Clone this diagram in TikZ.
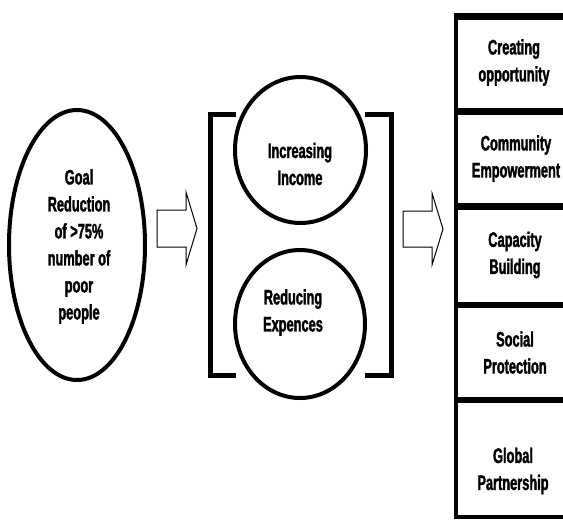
\documentclass[tikz,border=0pt]{standalone}
\usepackage{fontspec}
\newfontfamily\dfont{Liberation Sans Bold}[FakeStretch=0.61,FakeBold=1.6]
\usetikzlibrary{shapes.geometric}
\begin{document}
\begin{tikzpicture}[x=1pt,y=-1pt,
  txt/.style={font=\fontsize{21}{27}\dfont\selectfont, align=center, inner sep=0pt},
  oval/.style={ellipse, draw, line width=4pt, inner sep=0pt},
  brk/.style={line width=4.5pt, miter limit=10},
  blockarrow/.style={draw, line width=1pt, line join=miter},
  boxline/.style={line width=6.5pt},
  boxside/.style={line width=4pt}]
\useasboundingbox (0,0) rectangle (563,520);
% goal ellipse
\node[oval, minimum width=136pt, minimum height=270pt] (goal) at (77,245) {};
\node[txt] (goaltxt) at (79,246.5) {Goal\\Reduction\\of >75\%\\number of\\poor\\people};
% circles
\node[oval, minimum width=131pt, minimum height=146pt] (inc) at (300.5,150) {};
\node[txt] (inctxt) at (300,164) {Increasing\\Income};
\node[oval, minimum width=130pt, minimum height=148pt] (red) at (300,324) {};
\node[txt] (redtxt) at (293,312.5) {Reducing\\Expences};
% brackets
\coordinate (bl1) at (236,114.5);
\coordinate (bl2) at (236,375.5);
\coordinate (br1) at (365,114.5);
\coordinate (br2) at (365,375.5);
\draw[brk] (bl1) -- (210.5,114.5) -- (210.5,375.5) -- (bl2);
\draw[brk] (br1) -- (391.5,114.5) -- (391.5,375.5) -- (br2);
% block arrows
\coordinate (a1) at (157,228.5);
\draw[blockarrow] (a1) ++(0,-18.5) -- ++(29,0) -- ++(0,-18) -- (197,228.5) -- (186,265) -- ++(0,-18) -- (157,247) -- cycle;
\coordinate (a2) at (403,229);
\draw[blockarrow] (a2) ++(0,-18) -- ++(29,0) -- ++(0,-18) -- (443,229) -- (432,265) -- ++(0,-18) -- (403,247) -- cycle;
% right boxes
\draw[boxside] (456,14) -- (456,519);
\draw[boxline] (454,16.5) -- (580,16.5);
\draw[boxline] (454,111.5) -- (580,111.5);
\draw[boxline] (454,206.5) -- (580,206.5);
\draw[boxline] (454,305) -- (580,305);
\draw[boxline] (454,400) -- (580,400);
\draw[boxside] (454,517) -- (580,517);
\node[txt] (b1) at (514,62.5) {Creating\\opportunity};
\node[txt] (b2) at (516,158.5) {Community\\Empowerment};
\node[txt] (b3) at (515,255) {Capacity\\Building};
\node[txt] (b4) at (515,352.5) {Social\\Protection};
\node[txt] (b5) at (513,471) {Global\\Partnership};
\end{tikzpicture}
\end{document}
